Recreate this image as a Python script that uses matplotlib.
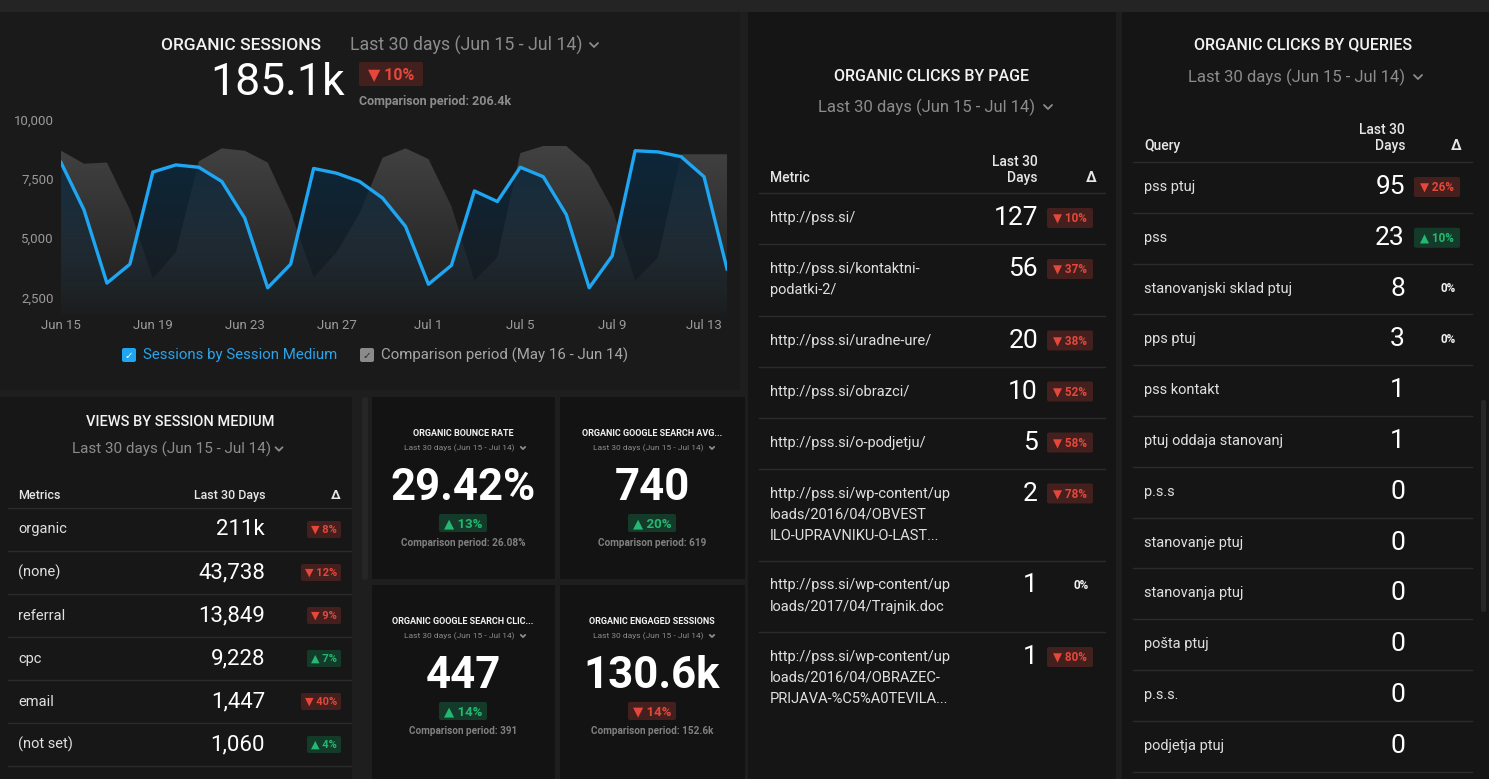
"""
Dark analytics dashboard: organic sessions, views by medium, KPI tiles and click tables.
"""

import numpy as np
import matplotlib.pyplot as plt
from matplotlib.patches import FancyBboxPatch, Rectangle, Polygon
from matplotlib.ticker import FuncFormatter

plt.rcParams["font.family"] = ["Roboto", "DejaVu Sans"]

W, H = 1489, 779

# ---- line chart data (Jun 15 - Jul 14, one point per day) ----
tick_labels = ["Jun 15", "Jun 19", "Jun 23", "Jun 27", "Jul 1", "Jul 5", "Jul 9", "Jul 13"]
sessions = [8200, 6200, 3100, 3900, 7800, 8100, 8000, 7400, 5850, 2900,
            3900, 7950, 7750, 7400, 6700, 5500, 3050, 3850, 7000, 6550,
            8000, 7600, 6000, 2900, 4250, 8700, 8650, 8450, 7600, 3700]
comparison = [8700, 8150, 8200, 6200, 3300, 4400, 8250, 8800, 8700, 8200,
              6100, 3350, 4400, 6050, 8400, 8800, 8350, 6350, 3200, 4200,
              8600, 8900, 8900, 8050, 6250, 3200, 4200, 8550, 8550, 8550]
y_ticks = [2500, 5000, 7500, 10000]

# ---- views by session medium ----
views_labels = ["organic", "(none)", "referral", "cpc", "email", "(not set)"]
views_values = ["211k", "43,738", "13,849", "9,228", "1,447", "1,060"]
views_delta = [-8, -12, -9, 7, -40, 4]

# ---- KPI tiles ----
kpi_titles = ["ORGANIC BOUNCE RATE", "ORGANIC GOOGLE SEARCH AVG...",
              "ORGANIC GOOGLE SEARCH CLIC...", "ORGANIC ENGAGED SESSIONS"]
kpi_values = ["29.42%", "740", "447", "130.6k"]
kpi_delta = [13, 20, 14, -14]
kpi_compare = ["26.08%", "619", "391", "152.6k"]

# ---- organic clicks by page ----
page_labels = ["http://pss.si/",
               "http://pss.si/kontaktni-\npodatki-2/",
               "http://pss.si/uradne-ure/",
               "http://pss.si/obrazci/",
               "http://pss.si/o-podjetju/",
               "http://pss.si/wp-content/up\nloads/2016/04/OBVEST\nILO-UPRAVNIKU-O-LAST...",
               "http://pss.si/wp-content/up\nloads/2017/04/Trajnik.doc",
               "http://pss.si/wp-content/up\nloads/2016/04/OBRAZEC-\nPRIJAVA-%C5%A0TEVILA..."]
page_values = [127, 56, 20, 10, 5, 2, 1, 1]
page_delta = [-10, -37, -38, -52, -58, -78, 0, -80]

# ---- organic clicks by queries ----
query_labels = ["pss ptuj", "pss", "stanovanjski sklad ptuj", "pps ptuj", "pss kontakt",
                "ptuj oddaja stanovanj", "p.s.s", "stanovanje ptuj", "stanovanja ptuj",
                "pošta ptuj", "p.s.s.", "podjetja ptuj"]
query_values = [95, 23, 8, 3, 1, 1, 0, 0, 0, 0, 0, 0]
query_delta = [-26, 10, 0, 0, None, None, None, None, None, None, None, None]

WHITE = "#f2f2f2"
GREY = "#8c8c8c"
LINE = "#2b2b2b"
RED, RED_BG = "#e5473a", "#43201e"
GREEN, GREEN_BG = "#25b871", "#143a2a"
BLUE = "#1ea6f2"

fig = plt.figure(figsize=(W / 100, H / 100), dpi=100)
fig.patch.set_facecolor("#1e1e1e")
bg = fig.add_axes([0, 0, 1, 1])
bg.set_xlim(0, W)
bg.set_ylim(H, 0)
bg.axis("off")


def rect(x0, y0, x1, y1, color, r=0):
    if r:
        p = FancyBboxPatch((x0, y0), x1 - x0, y1 - y0,
                           boxstyle=f"round,pad=0,rounding_size={r}",
                           facecolor=color, edgecolor="none")
    else:
        p = Rectangle((x0, y0), x1 - x0, y1 - y0, facecolor=color, edgecolor="none")
    bg.add_patch(p)


def txt(x, y, s, size, color=WHITE, ha="left", weight="normal", va="center"):
    return bg.text(x, y, s, fontsize=size, color=color, ha=ha, va=va, fontweight=weight)


def chevron(x, y, s=3.0, color=GREY, lw=1.3):
    bg.plot([x - s, x, x + s], [y - s / 2, y + s / 2, y - s / 2], color=color, lw=lw,
            solid_capstyle="round", solid_joinstyle="round")


def badge(x, y, d, w, h, size, anchor="left"):
    if d is None:
        return
    if d == 0:
        cx = x + w - 12 if anchor == "left" else x - 12
        txt(cx, y, "0%", size, WHITE, ha="center", weight="bold")
        return
    up = d > 0
    s = ("▲ " if up else "▼ ") + f"{abs(d)}%"
    x0 = x if anchor == "left" else x - w
    rect(x0, y - h / 2, x0 + w, y + h / 2, GREEN_BG if up else RED_BG, r=2)
    txt(x0 + w / 2, y + 0.5, s, size, GREEN if up else RED, ha="center", weight="bold")


# ---- panel backgrounds ----
rect(0, 0, W, 12, "#242424")
rect(0, 12, 740, 390, "#1a1a1a")
rect(0, 397, 352, H, "#171717")
rect(362, 397, 368, 580, "#262626", r=3)
rect(372, 397, 555, 579, "#131313")
rect(560, 397, 745, 579, "#131313")
rect(372, 585, 555, H, "#131313")
rect(560, 585, 745, H, "#131313")
rect(748, 12, 1116, H, "#151515")
rect(1122, 12, W, H, "#151515")
rect(1481, 400, 1486, 612, "#262626", r=2)

# ---- organic sessions header ----
txt(321, 45, "ORGANIC SESSIONS", 12.5, WHITE, ha="right", weight="medium")
txt(350, 45, "Last 30 days (Jun 15 - Jul 14)", 12.8, GREY)
chevron(594, 45, s=4)
txt(345, 83, "185.1k", 32, "white", ha="right")
rect(359, 62, 423, 86, RED_BG, r=2)
txt(391, 74.5, "▼ 10%", 11.5, RED, ha="center", weight="bold")
txt(359, 101, "Comparison period: 206.4k", 9, GREY, weight="bold")

# ---- line chart ----
ymin = 1750
ax = fig.add_axes([61 / W, 1 - 315 / H, (727 - 61) / W, (315 - 120) / H])
ax.set_facecolor("none")
x = np.arange(len(sessions))


def gradient_fill(ax, xs, ys, rgb, a_top, a_bot, z):
    verts = [(xs[0], ymin)] + list(zip(xs, ys)) + [(xs[-1], ymin)]
    poly = Polygon(verts, closed=True, facecolor="none", edgecolor="none")
    ax.add_patch(poly)
    grad = np.zeros((200, 1, 4))
    grad[:, :, :3] = rgb
    grad[:, 0, 3] = np.linspace(a_top, a_bot, 200)
    im = ax.imshow(grad, aspect="auto", origin="upper", zorder=z,
                   extent=[xs[0], xs[-1], ymin, max(ys)])
    im.set_clip_path(poly)


gradient_fill(ax, x, comparison, (0.30, 0.30, 0.30), 0.8, 0.05, 1)
gradient_fill(ax, x, sessions, (0.05, 0.16, 0.24), 0.92, 0.05, 2)
ax.plot(x, sessions, color=BLUE, lw=2.4, zorder=3, solid_joinstyle="round")
ax.set_xlim(0, len(sessions) - 1)
ax.set_ylim(ymin, 10000)
ax.set_xticks(np.arange(0, len(sessions), 4))
ax.set_xticklabels(tick_labels)
ax.set_yticks(y_ticks)
ax.yaxis.set_major_formatter(FuncFormatter(lambda v, p: f"{int(v):,}"))
ax.tick_params(length=0, colors="#9a9a9a", labelsize=9.5)
ax.tick_params(axis="x", pad=3)
ax.tick_params(axis="y", pad=5)
for sp in ax.spines.values():
    sp.set_visible(False)

# legend
rect(122, 348, 136, 362, BLUE, r=2)
bg.text(129, 355.5, "✓", fontsize=7.5, color="white", ha="center", va="center",
        family="DejaVu Sans")
txt(143, 355, "Sessions by Session Medium", 10.8, "#2aa3ea")
rect(360, 348, 374, 362, "#8a8a8a", r=2)
bg.text(367, 355.5, "✓", fontsize=7.5, color="#2a2a2a", ha="center", va="center",
        family="DejaVu Sans")
txt(381, 355, "Comparison period (May 16 - Jun 14)", 10.8, "#a6a6a6")

# ---- views by session medium ----
txt(180, 422, "VIEWS BY SESSION MEDIUM", 10.5, WHITE, ha="center", weight="medium")
txt(172, 449, "Last 30 days (Jun 15 - Jul 14)", 11, GREY, ha="center")
chevron(279, 449, s=3.5)
txt(18, 495, "Metrics", 9, "#e6e6e6", weight="medium")
txt(265, 495, "Last 30 Days", 9, "#e6e6e6", ha="right", weight="medium")
txt(341, 495, "Δ", 9.5, "#e6e6e6", ha="right", weight="bold")
bg.plot([8, 351], [508, 508], color=LINE, lw=1)
for i, (lab, val, d) in enumerate(zip(views_labels, views_values, views_delta)):
    yc = 529.5 + 43 * i
    txt(18, yc, lab, 10.5, "#e0e0e0")
    txt(265, yc, val, 16, "white", ha="right")
    bw = 34 if abs(d) < 10 else 40
    badge(341, yc, d, bw, 17, 8, anchor="right")
    bg.plot([8, 351], [551 + 43 * i, 551 + 43 * i], color=LINE, lw=1)

# ---- KPI tiles ----
tile_cx = [463, 652, 463, 652]
tile_top = [397, 397, 585, 585]
for cx, top, title, val, d, comp in zip(tile_cx, tile_top, kpi_titles, kpi_values,
                                        kpi_delta, kpi_compare):
    txt(cx, top + 36, title, 6.5, WHITE, ha="center", weight="bold")
    txt(cx - 4, top + 51, "Last 30 days (Jun 15 - Jul 14)", 6, GREY, ha="center")
    chevron(cx + 60, top + 51, s=2.2)
    txt(cx, top + 91, val, 31.5, "white", ha="center", weight="bold")
    badge(cx - 24, top + 126, d, 48, 18, 9.5)
    txt(cx, top + 146, f"Comparison period: {comp}", 7.2, "#808080", ha="center", weight="bold")

# ---- organic clicks by page ----
txt(932, 76, "ORGANIC CLICKS BY PAGE", 11.5, WHITE, ha="center", weight="medium")
txt(926, 107, "Last 30 days (Jun 15 - Jul 14)", 12, GREY, ha="center")
chevron(1048, 107, s=4)
txt(770, 178, "Metric", 10, "#e6e6e6", weight="medium")
txt(1038, 162, "Last 30", 10, "#e6e6e6", ha="right", weight="medium")
txt(1038, 178, "Days", 10, "#e6e6e6", ha="right", weight="medium")
txt(1097, 178, "Δ", 10.5, "#e6e6e6", ha="right", weight="bold")
bg.plot([759, 1105], [193, 193], color=LINE, lw=1)
top = 193
for i, (lab, val, d) in enumerate(zip(page_labels, page_values, page_delta)):
    lines = lab.split("\n")
    yc = top + 25
    for j, ln in enumerate(lines):
        txt(770, yc + 21 * j, ln, 10.5, "#e0e0e0")
    txt(1038, yc, str(val), 19, "white", ha="right")
    badge(1047, yc, d, 46, 20, 8.5)
    top += 51 + 20.5 * (len(lines) - 1)
    if i < len(page_labels) - 1:
        bg.plot([759, 1105], [top, top], color=LINE, lw=1)

# ---- organic clicks by queries ----
txt(1303, 45, "ORGANIC CLICKS BY QUERIES", 11.5, WHITE, ha="center", weight="medium")
txt(1296, 77, "Last 30 days (Jun 15 - Jul 14)", 12, GREY, ha="center")
chevron(1418, 77, s=4)
txt(1144, 146, "Query", 10, "#e6e6e6", weight="medium")
txt(1405, 130, "Last 30", 10, "#e6e6e6", ha="right", weight="medium")
txt(1405, 146, "Days", 10, "#e6e6e6", ha="right", weight="medium")
txt(1462, 146, "Δ", 10.5, "#e6e6e6", ha="right", weight="bold")
bg.plot([1133, 1472], [162, 162], color=LINE, lw=1)
for i, (lab, val, d) in enumerate(zip(query_labels, query_values, query_delta)):
    yc = 187 + 50.8 * i
    txt(1144, yc, lab, 10.5, "#e0e0e0")
    txt(1405, yc, str(val), 19, "white", ha="right")
    badge(1414, yc, d, 46, 20, 8.5)
    ysep = 162 + 50.8 * (i + 1)
    bg.plot([1133, 1472], [ysep, ysep], color=LINE, lw=1)

fig.savefig("out.png", dpi=100, facecolor=fig.get_facecolor())
